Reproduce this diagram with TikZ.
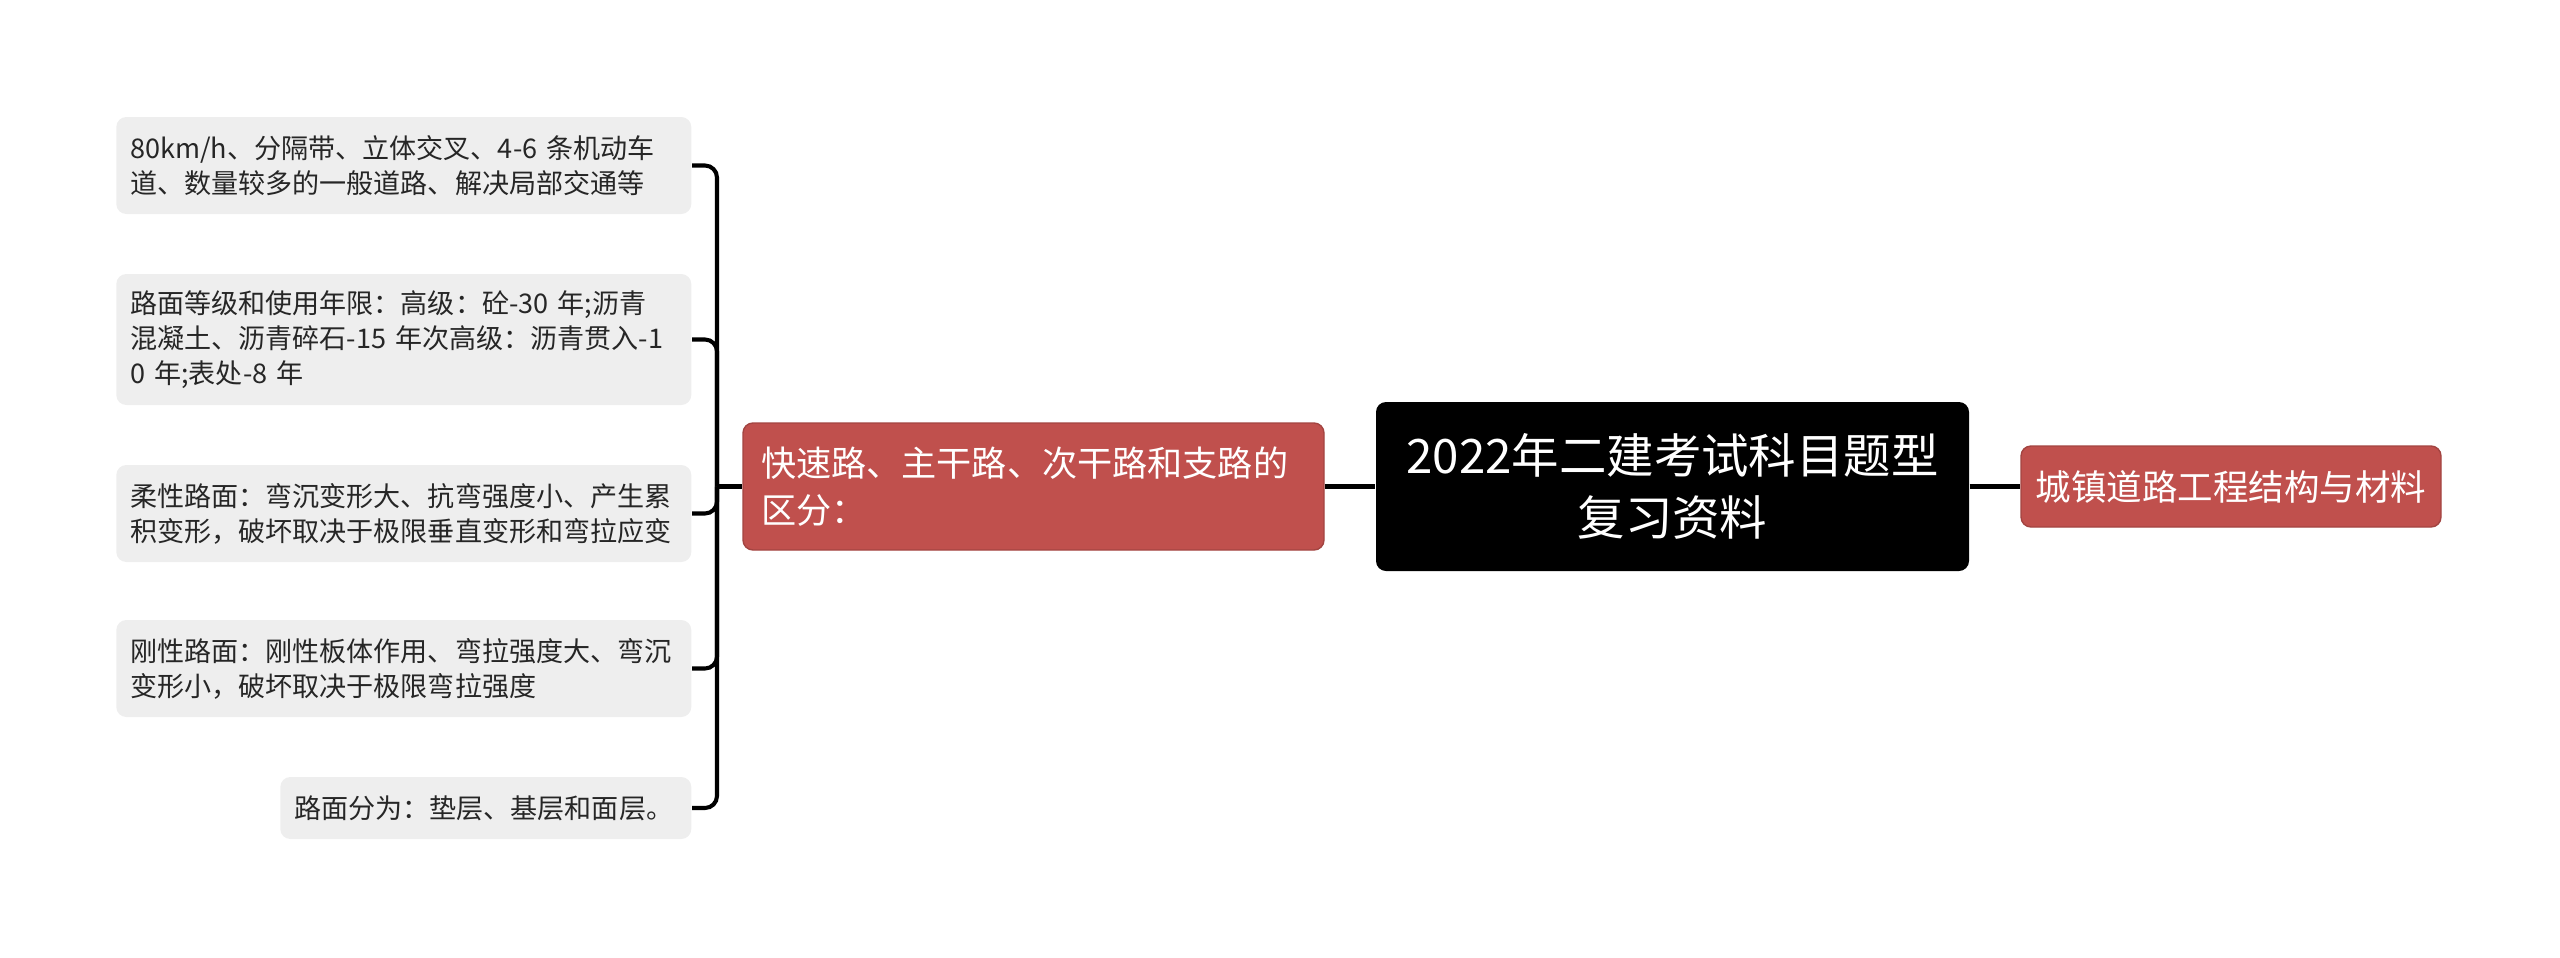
\documentclass[tikz,border=0pt]{standalone}
\usepackage{fontspec}
\setmainfont{Noto Sans CJK SC}
\definecolor{leafgray}{HTML}{EEEEEE}
\definecolor{topicred}{HTML}{C0504D}
\tikzset{
  leaf/.style={fill=leafgray,rounded corners=0.1cm,anchor=east,align=left,
    inner xsep=0.14cm,inner ysep=0pt,text=black!85,
    font=\fontsize{7.7pt}{10pt}\selectfont},
  topic/.style={fill=topicred,draw=topicred!85!black,line width=0.4pt,
    rounded corners=0.1cm,text=white,inner ysep=0pt},
  link/.style={line width=1.15pt,rounded corners=0.12cm}
}
\begin{document}
\begin{tikzpicture}
\useasboundingbox (0,0) rectangle (25.6,9.57);

% centre and right branch
\node[fill=black,rounded corners=0.1cm,text=white,align=center,minimum width=5.93cm,minimum height=1.69cm,inner xsep=0pt,font=\fontsize{13.5pt}{17.6pt}\selectfont] (root) at (16.725,4.705) {2022年二建考试科目题型\\复习资料};
\node[topic,minimum width=4.2cm,minimum height=0.81cm,inner xsep=0pt,font=\fontsize{10.1pt}{13pt}\selectfont] (road) at (22.31,4.705) {城镇道路工程结构与材料};

% left branch
\node[topic,align=left,text width=5.45cm,minimum height=1.27cm,inner xsep=0.18cm,font=\fontsize{10pt}{13.4pt}\selectfont] (kinds) at (10.335,4.705) {快速路、主干路、次干路和支路的\\区分：};

\node[leaf,text width=5.47cm,minimum height=0.97cm] (l1) at (6.92,7.915) {80km/h、分隔带、立体交叉、4-6 条机动车\\道、数量较多的一般道路、解决局部交通等};
\node[leaf,text width=5.47cm,minimum height=1.31cm] (l2) at (6.92,6.175) {路面等级和使用年限：高级：砼-30 年;沥青\\混凝土、沥青碎石-15 年次高级：沥青贯入-1\\0 年;表处-8 年};
\node[leaf,text width=5.47cm,minimum height=0.97cm] (l3) at (6.92,4.435) {柔性路面：弯沉变形大、抗弯强度小、产生累\\积变形，破坏取决于极限垂直变形和弯拉应变};
\node[leaf,text width=5.47cm,minimum height=0.97cm] (l4) at (6.92,2.885) {刚性路面：刚性板体作用、弯拉强度大、弯沉\\变形小，破坏取决于极限弯拉强度};
\node[leaf,text width=3.83cm,minimum height=0.62cm] (l5) at (6.92,1.49) {路面分为：垫层、基层和面层。};

% connectors
\coordinate (hub) at (7.17,4.705);
\foreach \n in {l1,l2,l3,l4,l5}
\draw[link] (\n.east) -| (hub);
\draw[link] (hub) -- (kinds.west);
\draw[link] (kinds.east) -- (root.west);
\draw[link] (root.east) -- (road.west);
\end{tikzpicture}
\end{document}
